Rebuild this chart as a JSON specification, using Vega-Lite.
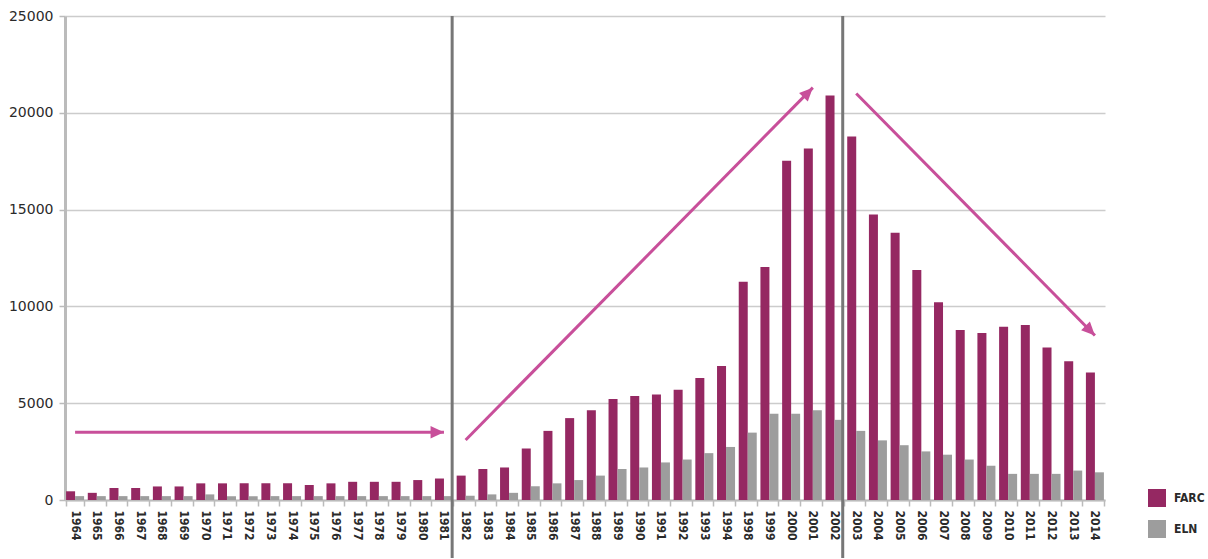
{
  "$schema": "https://vega.github.io/schema/vega-lite/v6.json",
  "autosize": {"type": "none"},
  "width": 1040,
  "height": 484,
  "padding": {"left": 65, "top": 16, "right": 103, "bottom": 59},
  "background": "white",
  "config": {"view": {"stroke": null}, "font": "DejaVu Sans"},
  "datasets": {
    "counts": [
      {"year": "1964", "FARC": 450, "ELN": 200},
      {"year": "1965", "FARC": 370, "ELN": 200},
      {"year": "1966", "FARC": 620, "ELN": 200},
      {"year": "1967", "FARC": 620, "ELN": 200},
      {"year": "1968", "FARC": 700, "ELN": 200},
      {"year": "1969", "FARC": 700, "ELN": 200},
      {"year": "1970", "FARC": 860, "ELN": 290},
      {"year": "1971", "FARC": 860, "ELN": 200},
      {"year": "1972", "FARC": 860, "ELN": 200},
      {"year": "1973", "FARC": 860, "ELN": 200},
      {"year": "1974", "FARC": 860, "ELN": 200},
      {"year": "1975", "FARC": 775, "ELN": 200},
      {"year": "1976", "FARC": 860, "ELN": 200},
      {"year": "1977", "FARC": 940, "ELN": 200},
      {"year": "1978", "FARC": 940, "ELN": 200},
      {"year": "1979", "FARC": 940, "ELN": 200},
      {"year": "1980", "FARC": 1030, "ELN": 200},
      {"year": "1981", "FARC": 1110, "ELN": 200},
      {"year": "1982", "FARC": 1260, "ELN": 220},
      {"year": "1983", "FARC": 1600, "ELN": 290},
      {"year": "1984", "FARC": 1680, "ELN": 370},
      {"year": "1985", "FARC": 2660, "ELN": 710},
      {"year": "1986", "FARC": 3570, "ELN": 860},
      {"year": "1987", "FARC": 4230, "ELN": 1030},
      {"year": "1988", "FARC": 4630, "ELN": 1260},
      {"year": "1989", "FARC": 5220, "ELN": 1600},
      {"year": "1990", "FARC": 5370, "ELN": 1680},
      {"year": "1991", "FARC": 5450, "ELN": 1940},
      {"year": "1992", "FARC": 5690, "ELN": 2090},
      {"year": "1993", "FARC": 6300, "ELN": 2420},
      {"year": "1994", "FARC": 6920, "ELN": 2740},
      {"year": "1998", "FARC": 11270, "ELN": 3480},
      {"year": "1999", "FARC": 12040, "ELN": 4460},
      {"year": "2000", "FARC": 17520, "ELN": 4460},
      {"year": "2001", "FARC": 18160, "ELN": 4630},
      {"year": "2002", "FARC": 20900, "ELN": 4140},
      {"year": "2003", "FARC": 18770, "ELN": 3570},
      {"year": "2004", "FARC": 14750, "ELN": 3080},
      {"year": "2005", "FARC": 13800, "ELN": 2830},
      {"year": "2006", "FARC": 11880, "ELN": 2510},
      {"year": "2007", "FARC": 10220, "ELN": 2340},
      {"year": "2008", "FARC": 8780, "ELN": 2090},
      {"year": "2009", "FARC": 8630, "ELN": 1770},
      {"year": "2010", "FARC": 8950, "ELN": 1350},
      {"year": "2011", "FARC": 9040, "ELN": 1350},
      {"year": "2012", "FARC": 7880, "ELN": 1350},
      {"year": "2013", "FARC": 7170, "ELN": 1520},
      {"year": "2014", "FARC": 6580, "ELN": 1430}
    ],
    "dividers": [
      {"year": "1982", "top": 25000, "bottom": -3000},
      {"year": "2003", "top": 25000, "bottom": -3000}
    ],
    "arrows": [
      {"id": "flat", "fromYear": "1964", "fromValue": 3500, "toYear": "1981", "toValue": 3500},
      {"id": "up", "fromYear": "1982", "fromValue": 3100, "toYear": "2001", "toValue": 21300},
      {"id": "down", "fromYear": "2003", "fromValue": 21000, "toYear": "2014", "toValue": 8500}
    ]
  },
  "layer": [
    {
      "data": {"name": "counts"},
      "transform": [{"fold": ["FARC", "ELN"], "as": ["group", "value"]}],
      "mark": {"type": "bar"},
      "encoding": {
        "x": {
          "field": "year", "type": "nominal", "sort": null,
          "scale": {"paddingInner": 0.17, "paddingOuter": 0.05},
          "axis": {
            "title": null, "labelAngle": 90, "labelFontSize": 12,
            "labelFont": "DejaVu Sans Condensed", "labelFontWeight": "bold",
            "labelColor": "#2a2a2a", "labelPadding": 4,
            "domainColor": "#bbbbbb", "domainWidth": 2,
            "tickColor": "#bbbbbb", "tickWidth": 1.5, "tickSize": 6, "tickBand": "extent"
          }
        },
        "xOffset": {"field": "group", "type": "nominal", "scale": {"domain": ["FARC", "ELN"], "paddingInner": 0}},
        "y": {
          "field": "value", "type": "quantitative",
          "scale": {"domain": [0, 25000], "nice": false},
          "axis": {
            "title": null, "values": [0, 5000, 10000, 15000, 20000, 25000],
            "format": "d", "labelFontSize": 14, "labelColor": "#2a2a2a",
            "labelPadding": 6, "domainColor": "#bbbbbb", "domainWidth": 3,
            "tickColor": "#bbbbbb", "tickSize": 6, "tickWidth": 1.5,
            "gridColor": "#cccccc", "gridWidth": 1.5
          }
        },
        "color": {
          "field": "group", "type": "nominal",
          "scale": {"domain": ["FARC", "ELN"], "range": ["#952862", "#9d9d9d"]},
          "legend": {
            "title": null, "orient": "none", "legendX": 1083, "legendY": 473,
            "symbolType": "square", "symbolSize": 324, "symbolStrokeWidth": 0,
            "labelFontSize": 12, "labelFont": "DejaVu Sans Condensed", "labelFontWeight": "bold",
            "labelColor": "#2a2a2a", "rowPadding": 13, "labelOffset": 8
          }
        }
      }
    },
    {
      "data": {"name": "dividers"},
      "mark": {"type": "rule", "color": "#777777", "strokeWidth": 3},
      "encoding": {
        "x": {"field": "year", "type": "nominal", "sort": null, "bandPosition": -0.25},
        "y": {"field": "top", "type": "quantitative"},
        "y2": {"field": "bottom"}
      }
    },
    {
      "data": {"name": "arrows"},
      "mark": {"type": "rule", "color": "#c84f9a", "strokeWidth": 3},
      "encoding": {
        "x": {"field": "fromYear", "type": "nominal", "sort": null},
        "x2": {"field": "toYear"},
        "y": {"field": "fromValue", "type": "quantitative"},
        "y2": {"field": "toValue"}
      }
    },
    {
      "data": {"name": "arrows"},
      "transform": [{"filter": "datum.id === 'flat'"}],
      "mark": {"type": "point", "shape": "M0,0L-1.2,-0.55L-1.2,0.55Z", "filled": true, "color": "#c84f9a", "opacity": 1, "size": 500, "angle": 0},
      "encoding": {
        "x": {"field": "toYear", "type": "nominal", "sort": null},
        "y": {"field": "toValue", "type": "quantitative"}
      }
    },
    {
      "data": {"name": "arrows"},
      "transform": [{"filter": "datum.id === 'up'"}],
      "mark": {"type": "point", "shape": "M0,0L-1.2,-0.55L-1.2,0.55Z", "filled": true, "color": "#c84f9a", "opacity": 1, "size": 500, "angle": 314.5},
      "encoding": {
        "x": {"field": "toYear", "type": "nominal", "sort": null},
        "y": {"field": "toValue", "type": "quantitative"}
      }
    },
    {
      "data": {"name": "arrows"},
      "transform": [{"filter": "datum.id === 'down'"}],
      "mark": {"type": "point", "shape": "M0,0L-1.2,-0.55L-1.2,0.55Z", "filled": true, "color": "#c84f9a", "opacity": 1, "size": 500, "angle": 45.5},
      "encoding": {
        "x": {"field": "toYear", "type": "nominal", "sort": null},
        "y": {"field": "toValue", "type": "quantitative"}
      }
    }
  ]
}
